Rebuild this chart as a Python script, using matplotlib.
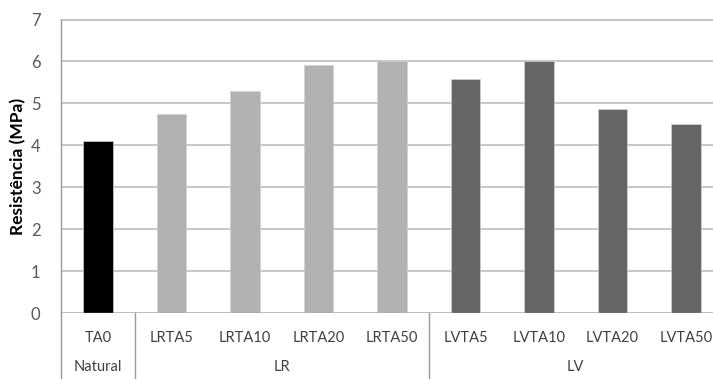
import matplotlib
matplotlib.use("Agg")
import matplotlib.pyplot as plt
from matplotlib.transforms import blended_transform_factory
from matplotlib.lines import Line2D

categories = ["TA0", "LRTA5", "LRTA10", "LRTA20", "LRTA50",
              "LVTA5", "LVTA10", "LVTA20", "LVTA50"]
values = [4.1, 4.74, 5.3, 5.92, 6.0, 5.59, 6.0, 4.86, 4.52]
groups = ["Natural", "LR", "LV"]
group_sizes = [1, 4, 4]
group_colors = ["#000000", "#b2b2b2", "#666666"]
yticks = [0, 1, 2, 3, 4, 5, 6, 7]

plt.rcParams["font.family"] = ["Lato", "DejaVu Sans"]

fig = plt.figure(figsize=(7.13, 3.79), dpi=100)
ax = fig.add_axes([0.0859, 0.1741, 0.9278, 0.7744])

colors = []
for g, n in zip(group_colors, group_sizes):
    colors += [g] * n

x = list(range(len(categories)))
ax.bar(x, values, width=0.4, color=colors, edgecolor="#d0d0d0", linewidth=0.5, zorder=3)

ax.set_xlim(-0.5, len(categories) - 0.5)
ax.set_ylim(0, 7)
ax.set_yticks(yticks)
ax.set_yticklabels([str(t) for t in yticks], fontsize=12, color="#595959")
ax.tick_params(axis="y", length=0, pad=15)
ax.set_xticks([])
ax.grid(axis="y", color="#bdbdbd", linewidth=1.2, zorder=0)
for s in ["right", "bottom"]:
    ax.spines[s].set_visible(False)
ax.spines["top"].set_color("#bdbdbd")
ax.spines["top"].set_linewidth(1.2)
ax.spines["left"].set_color("#9a9a9a")
ax.spines["left"].set_linewidth(1.0)

ax.set_ylabel("Resistência (MPa)", fontsize=12.5, fontweight="bold", color="#000000", labelpad=3)

# multi-level category axis below the plot
tr = blended_transform_factory(ax.transData, fig.transFigure)
ax.axhline(0, color="#9a9a9a", linewidth=1.0, zorder=4)
for xi, lab in zip(x, categories):
    ax.text(xi, 0.108, lab, transform=tr, ha="center", va="center",
            fontsize=10.5, color="#404040")

start = -0.5
bounds = [start]
for n in group_sizes:
    bounds.append(bounds[-1] + n)
for g, a, b in zip(groups, bounds[:-1], bounds[1:]):
    ax.text((a + b) / 2, 0.032, g, transform=tr, ha="center", va="center",
            fontsize=10.5, color="#404040")
for b in bounds[:-1]:
    fig.add_artist(Line2D([b, b], [0.0, 0.1741], transform=tr,
                          color="#9a9a9a", linewidth=1.0, clip_on=False))

fig.savefig("out.png", dpi=100)
